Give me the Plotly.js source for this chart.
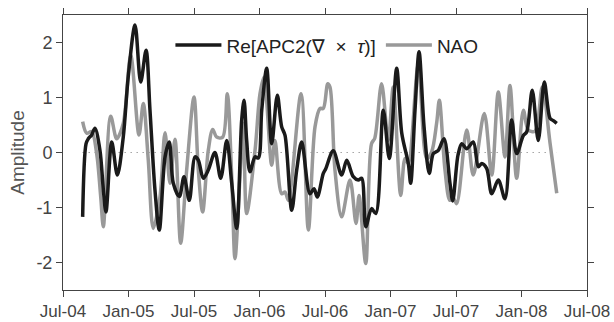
<!DOCTYPE html>
<html>
<head>
<meta charset="utf-8">
<script src="https://cdn.plot.ly/plotly-3.0.1.min.js"></script>
<style>html,body{margin:0;padding:0;background:#fff;}#chart{width:614px;height:322px;}</style>
</head>
<body>
<div id="chart"></div>
<script>
// Decimal-year positions and amplitudes
const apcX = [2004.650,2004.676,2004.693,2004.719,2004.744,2004.782,2004.808,2004.828,2004.872,2004.915,2004.960,2004.998,2005.050,2005.093,2005.134,2005.164,2005.202,2005.235,2005.279,2005.311,2005.342,2005.388,2005.424,2005.464,2005.508,2005.533,2005.571,2005.609,2005.660,2005.704,2005.750,2005.788,2005.826,2005.864,2005.882,2005.902,2005.927,2005.966,2005.991,2006.017,2006.055,2006.093,2006.136,2006.169,2006.195,2006.246,2006.284,2006.322,2006.385,2006.416,2006.441,2006.487,2006.505,2006.563,2006.627,2006.666,2006.716,2006.754,2006.780,2006.811,2006.855,2006.888,2006.945,2006.991,2007.047,2007.086,2007.136,2007.154,2007.187,2007.218,2007.256,2007.296,2007.327,2007.365,2007.408,2007.454,2007.475,2007.515,2007.544,2007.582,2007.632,2007.670,2007.696,2007.734,2007.773,2007.823,2007.874,2007.925,2007.963,2008.014,2008.039,2008.082,2008.128,2008.174,2008.218,2008.243,2008.269];
const apcY = [-1.17,0.16,0.25,0.32,0.44,0.04,-0.68,-1.08,0.19,-0.41,0.28,1.38,2.32,1.28,1.86,0.77,-0.68,-1.41,-0.08,0.19,-0.56,-0.80,-0.44,-0.87,-0.08,-0.14,-0.47,-0.32,0.00,-0.47,0.22,-0.56,-1.38,0.59,0.95,0.22,-0.35,-0.08,-0.10,0.77,1.53,0.16,1.04,0.47,0.31,-1.05,-0.32,0.19,-0.75,-0.66,-0.81,-0.38,-0.30,0.03,-0.41,-0.14,-0.44,-0.50,-0.47,-1.35,-1.02,-1.11,0.77,-0.11,1.53,0.35,-0.20,-0.56,0.77,1.83,0.47,-0.38,-0.02,0.04,0.25,-0.56,-0.88,-0.05,0.16,0.07,0.19,-0.26,-0.20,-0.29,-0.75,-0.50,-0.84,0.59,-0.02,0.31,0.37,1.13,0.22,1.28,0.62,0.58,0.53];

const naoX = [2004.650,2004.681,2004.719,2004.757,2004.788,2004.808,2004.864,2004.910,2004.960,2005.017,2005.080,2005.113,2005.151,2005.189,2005.240,2005.279,2005.317,2005.355,2005.398,2005.444,2005.500,2005.533,2005.566,2005.609,2005.643,2005.673,2005.719,2005.754,2005.788,2005.813,2005.851,2005.876,2005.902,2005.966,2006.004,2006.034,2006.093,2006.118,2006.169,2006.195,2006.220,2006.317,2006.373,2006.424,2006.462,2006.487,2006.521,2006.538,2006.576,2006.627,2006.691,2006.737,2006.760,2006.811,2006.855,2006.880,2006.932,2006.983,2007.021,2007.078,2007.111,2007.136,2007.212,2007.276,2007.314,2007.352,2007.373,2007.416,2007.454,2007.480,2007.505,2007.582,2007.632,2007.716,2007.773,2007.823,2007.874,2007.912,2007.963,2008.014,2008.052,2008.103,2008.159,2008.218,2008.269];
const naoY = [0.56,0.35,0.38,-0.02,-0.81,-1.35,0.66,0.25,0.53,1.77,0.32,0.89,-0.14,-1.38,-0.81,0.36,-0.56,0.24,-1.65,-0.32,1.01,-0.32,-1.08,0.04,0.42,0.28,0.28,1.07,-0.44,-1.93,-0.44,0.53,-1.11,0.04,1.07,1.37,-0.23,0.22,-0.75,-0.72,-0.87,1.07,-1.41,0.47,0.80,0.80,1.25,1.19,-0.32,-1.17,-0.50,-1.29,-0.78,-2.02,0.16,0.26,1.25,0.22,1.19,-0.78,-0.11,-0.20,1.59,-0.11,0.01,0.53,0.95,-0.32,-0.87,-0.83,-0.93,0.41,-0.41,0.71,-0.41,1.10,-0.08,1.22,-0.47,0.77,0.41,0.39,1.19,0.17,-0.74];

const tickVals = [2004.5,2005.0,2005.5,2006.0,2006.5,2007.0,2007.5,2008.0,2008.5];
const tickText = ['Jul-04','Jan-05','Jul-05','Jan-06','Jul-06','Jan-07','Jul-07','Jan-08','Jul-08'];
const yTickVals = [-2,-1,0,1,2];
const yTickText = ['-2','-1','0','1','2'];

const apcName = 'Re[APC2(\u2207\u00a0\u00a0\u00d7\u00a0\u00a0<i>\u03c4</i>)]';
const naoName = 'NAO';

const FONT = 'Liberation Sans, Arial, Helvetica, sans-serif';

const traces = [
  {x:[apcX[0], apcX[apcX.length-1]], y:[0,0], mode:'lines', showlegend:false, hoverinfo:'skip',
   line:{color:'#777', width:1, dash:'1px,5px'}},
  {x:naoX, y:naoY, name:naoName, mode:'lines', line:{color:'#999999', width:3.5, shape:'spline', smoothing:0.9}},
  {x:apcX, y:apcY, name:apcName, mode:'lines', line:{color:'#1a1a1a', width:3.5, shape:'spline', smoothing:0.9}}
];

const axisCommon = {showline:true, linecolor:'#444', linewidth:1, mirror:'ticks', ticks:'outside',
  ticklen:6, tickcolor:'#444', tickwidth:1, showgrid:false, zeroline:false,
  tickfont:{family:FONT, size:18, color:'#444'}};

const layout = {
  width:614, height:322,
  margin:{l:63, r:27, t:15, b:32},
  paper_bgcolor:'#fff', plot_bgcolor:'#fff',
  font:{family:FONT, color:'#444'},
  xaxis:Object.assign({}, axisCommon, {range:[2004.5,2008.5], tickmode:'array', tickvals:tickVals, ticktext:tickText,
    tickfont:{family:FONT, size:17, color:'#444'}}),
  yaxis:Object.assign({}, axisCommon, {range:[-2.5,2.5], tickmode:'array', tickvals:yTickVals, ticktext:yTickText,
    title:{text:'Amplitude', font:{family:FONT, size:19, color:'#555'}, standoff:6}}),
  showlegend:true,
  legend:{orientation:'h', x:0.205, xanchor:'left', y:0.89, yanchor:'middle', traceorder:'reversed',
    font:{family:FONT, size:19, color:'#222'}, bgcolor:'rgba(0,0,0,0)', itemwidth:46},
};

Plotly.newPlot('chart', traces, layout, {displayModeBar:false, staticPlot:true});
</script>
</body>
</html>
